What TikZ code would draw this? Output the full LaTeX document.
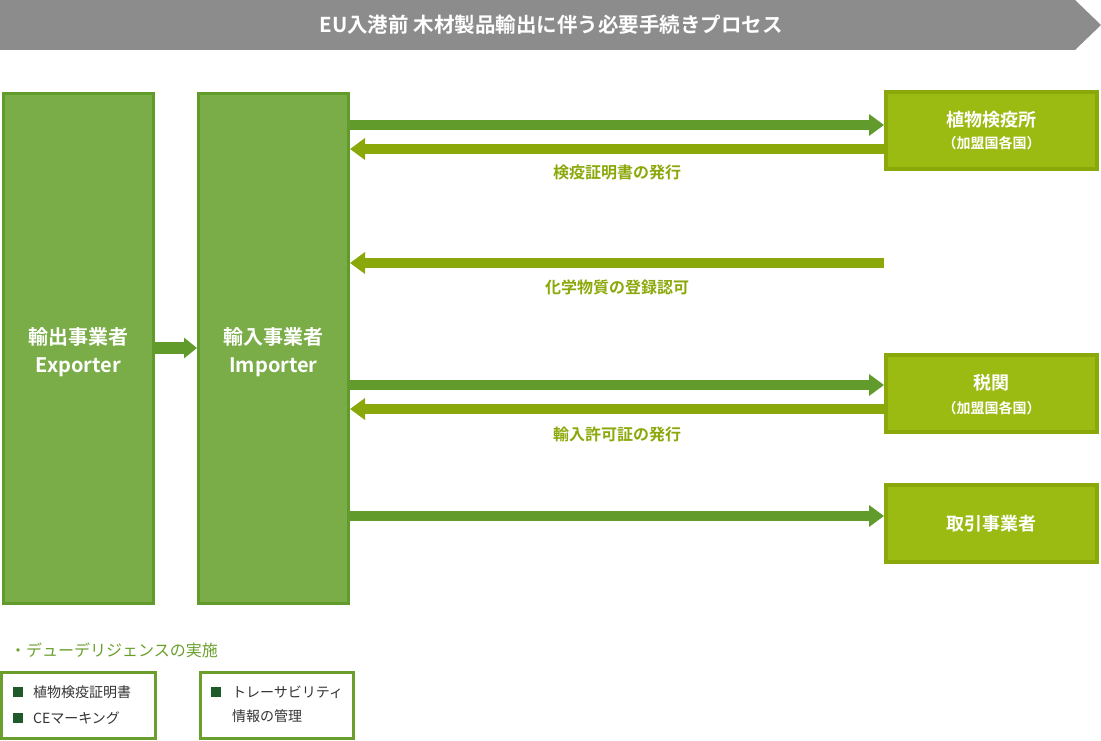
\documentclass[tikz,border=0pt]{standalone}
\usepackage{fontspec}
\setmainfont{Noto Sans CJK JP}
\newfontfamily\jpb{Noto Sans CJK JP Bold}
\usetikzlibrary{arrows.meta}
\definecolor{gbanner}{HTML}{8C8C8C}
\definecolor{gmain}{HTML}{7AAD47}
\definecolor{gdark}{HTML}{609B2C}
\definecolor{ylfill}{HTML}{9BBA12}
\definecolor{ylline}{HTML}{8AA80A}
\definecolor{sqcol}{HTML}{1E5A2A}
\definecolor{txtcol}{HTML}{333333}
\definecolor{ddtext}{HTML}{6A9F2E}
\tikzset{
  mainbox/.style={draw=gdark, fill=gmain, line width=3pt, minimum width=150pt, minimum height=510pt, inner sep=0pt},
  maintext/.style={text=white, font=\jpb\fontsize{20}{28}\selectfont, align=center, inner sep=0pt},
  rbox/.style={draw=ylline, fill=ylfill, line width=4pt, minimum width=211pt, minimum height=77pt, inner sep=0pt},
  rbig/.style={text=white, font=\jpb\fontsize{18}{20}\selectfont, inner sep=0pt},
  rsmall/.style={text=white, font=\jpb\fontsize{14}{16}\selectfont, inner sep=0pt},
  fwd/.style={draw=gdark, line width=10pt, -{Triangle[length=15pt,width=21pt]}},
  bwd/.style={draw=ylline, line width=10pt, -{Triangle[length=15pt,width=21pt]}},
  albl/.style={text=ylline, font=\jpb\fontsize{16}{18}\selectfont},
  ddbox/.style={draw=ddtext, line width=3pt, minimum height=66pt, inner sep=0pt},
  sq/.style={fill=sqcol, minimum size=10pt, inner sep=0pt},
  itm/.style={anchor=west, text=txtcol, font=\fontsize{14}{16}\selectfont, inner sep=0pt}
}
\begin{document}
\begin{tikzpicture}[x=1pt,y=-1pt]
\useasboundingbox (0,0) rectangle (1101,741);
% banner
\fill[gbanner] (0,0) -- (1075,0) -- (1101,25) -- (1075,50) -- (0,50) -- cycle;
\node[text=white, font=\jpb\fontsize{20.5}{22}\selectfont] (title) at (551,25) {EU入港前 木材製品輸出に伴う必要手続きプロセス};
% main boxes
\node[mainbox] (exp) at (78.5,348.5) {};
\node[maintext] (expT) at (exp.center |- 0,352) {輸出事業者\\Exporter};
\node[mainbox] (imp) at (273.5,348.5) {};
\node[maintext] (impT) at (imp.center |- 0,352) {輸入事業者\\Importer};
\draw[draw=gdark, line width=12pt, -{Triangle[length=13pt,width=20pt]}] (exp.east |- 0,348) -- (imp.west |- 0,348);
% right boxes
\node[rbox] (plant) at (991.5,130.5) {};
\node[rbig] (plantA) at (plant.center |- 0,120) {植物検疫所};
\node[rsmall] (plantB) at (plant.center |- 0,143) {（加盟国各国）};
\node[rbox] (cust) at (991.5,393.5) {};
\node[rbig] (custA) at (cust.center |- 0,383) {税関};
\node[rsmall] (custB) at (cust.center |- 0,408) {（加盟国各国）};
\node[rbox] (trade) at (991.5,523.5) {};
\node[rbig] (tradeA) at (trade.center) {取引事業者};
\coordinate (chem) at (884,263);
% arrows
\draw[fwd] (imp.east |- 0,125) -- (plant.west |- 0,125);
\draw[bwd] (plant.west |- 0,149) -- (imp.east |- 0,149) node[albl, pos=0.5, yshift=-23pt] (l1) {検疫証明書の発行};
\draw[bwd] (chem) -- (imp.east |- chem) node[albl, pos=0.5, yshift=-24pt] (l2) {化学物質の登録認可};
\draw[fwd] (imp.east |- 0,385) -- (cust.west |- 0,385);
\draw[bwd] (cust.west |- 0,409) -- (imp.east |- 0,409) node[albl, pos=0.5, yshift=-25pt] (l3) {輸入許可証の発行};
\draw[fwd] (imp.east |- 0,516) -- (trade.west |- 0,516);
% due diligence
\node[anchor=west, text=ddtext, font=\fontsize{16}{18}\selectfont, inner sep=0pt] (dd) at (10,650) {・デューデリジェンスの実施};
\node[ddbox, minimum width=154pt] (b1) at (78.5,705.5) {};
\node[ddbox, minimum width=153pt] (b2) at (277,705.5) {};
\node[sq] (s1) at (18,692) {};
\node[sq] (s2) at (18,718) {};
\node[sq] (s3) at (216,692) {};
\node[itm] (t1) at (33,692) {植物検疫証明書};
\node[itm] (t2) at (33,718) {CEマーキング};
\node[itm] (t3) at (232,692) {トレーサビリティ};
\node[itm] (t4) at (232,716) {情報の管理};
\end{tikzpicture}
\end{document}
